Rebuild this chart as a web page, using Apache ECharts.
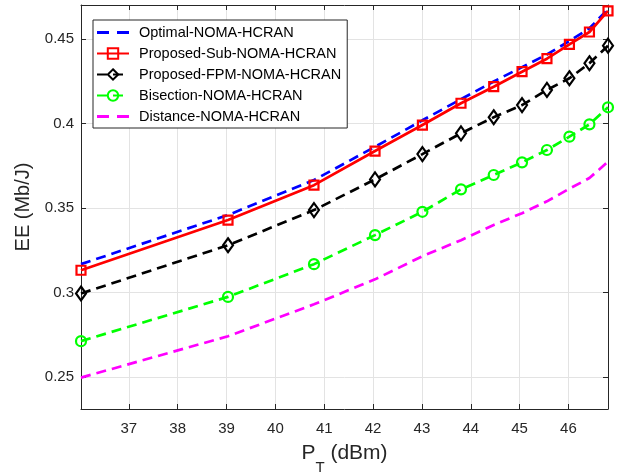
<!DOCTYPE html>
<html>
<head>
<meta charset="utf-8">
<script src="https://cdn.jsdelivr.net/npm/echarts@6/dist/echarts.min.js"></script>
<style>
    html, body { margin: 0; padding: 0; background: #fff; }
    #echarts-line { width: 619px; height: 475px; }
</style>
</head>
<body>
<div id="echarts-line"></div>
<script>
// transmit power (dBm)
var ptDbm = [36.02, 39.03, 40.79, 42.04, 43.01, 43.80, 44.47, 45.05, 45.56, 46.02, 46.43, 46.81];

var optimalEE = [0.3168, 0.3459, 0.3666, 0.3863, 0.4020, 0.4145, 0.4250, 0.4335, 0.4410, 0.4490, 0.4565, 0.4678];
var subEE = [0.3132, 0.3429, 0.3636, 0.3838, 0.3992, 0.4121, 0.4219, 0.4308, 0.4385, 0.4470, 0.4543, 0.4668];
var fpmEE = [0.2994, 0.3280, 0.3488, 0.3670, 0.3820, 0.3943, 0.4038, 0.4110, 0.4200, 0.4269, 0.4358, 0.4462];
var bisectionEE = [0.2712, 0.2974, 0.3168, 0.3340, 0.3478, 0.3611, 0.3696, 0.3771, 0.3844, 0.3923, 0.3996, 0.4097];
var distanceEE = [0.2496, 0.2741, 0.2930, 0.3078, 0.3215, 0.3310, 0.3400, 0.3470, 0.3540, 0.3615, 0.3678, 0.3775];

var seriesNames = ['Optimal-NOMA-HCRAN', 'Proposed-Sub-NOMA-HCRAN', 'Proposed-FPM-NOMA-HCRAN', 'Bisection-NOMA-HCRAN', 'Distance-NOMA-HCRAN'];

var xMin = 36.02, xMax = 46.81;
var yMin = 0.231, yMax = 0.4703;

function pairs(xs, ys) {
    var arr = [];
    for (var i = 0; i < xs.length; i++) {
        arr.push([xs[i], ys[i]]);
    }
    return arr;
}

function eeChart(id) {
    var myChart = echarts.init(document.getElementById(id));
    var font = 'Liberation Sans, Arial, sans-serif';
    var axisColor = '#262626';
    var dash = [10, 6];
    // two short dashes, with tiny specks at top and bottom to keep the icon height
    var dashIcon = 'path://M0,0h0.01v0.01h-0.01z M0,12.99h0.01v0.01h-0.01z M0,5h12v3h-12z M20,5h12v3h-12z';

    function lineSeries(name, data, color, dashed, symbol, size) {
        return {
            name: name,
            type: 'line',
            data: pairs(ptDbm, data),
            symbol: symbol || 'none',
            symbolSize: size || 9,
            showSymbol: !!symbol,
            lineStyle: {
                color: color,
                width: 2.7,
                type: dashed ? dash : 'solid'
            },
            itemStyle: {
                color: 'transparent',
                borderColor: color,
                borderWidth: 2.2
            },
            emphasis: { disabled: true },
            animation: false
        };
    }

    var option = {
        textStyle: { fontFamily: font },
        legend: {
            orient: 'vertical',
            left: 93,
            top: 20,
            padding: [5, 6, 4, 3],
            backgroundColor: '#fff',
            borderColor: axisColor,
            borderWidth: 1,
            itemWidth: 32,
            itemHeight: 13,
            itemGap: 6,
            textStyle: { fontSize: 14.5, color: '#000', fontFamily: font, padding: [0, 0, 0, 5] },
            data: [
                { name: seriesNames[0], icon: dashIcon, itemStyle: { color: '#0000ff', borderWidth: 0 } },
                seriesNames[1],
                seriesNames[2],
                seriesNames[3],
                { name: seriesNames[4], icon: dashIcon, itemStyle: { color: '#ff00ff', borderWidth: 0 } }
            ]
        },
        grid: {
            left: 81,
            right: 11,
            top: 5,
            bottom: 66,
            outerBoundsMode: 'none'
        },
        xAxis: [{
            type: 'value',
            min: xMin,
            max: xMax,
            splitNumber: 10,
            name: '{p|P}{s|T}{p| (dBm)}',
            nameLocation: 'middle',
            nameGap: 23,
            nameTextStyle: {
                rich: {
                    p: { fontSize: 21, color: '#262626', fontFamily: font },
                    s: { fontSize: 15, color: '#262626', fontFamily: font, padding: [28, 0, 0, 0] }
                }
            },
            axisLine: { lineStyle: { color: axisColor } },
            axisTick: { inside: true, length: 5, lineStyle: { color: axisColor } },
            axisLabel: {
                color: '#262626',
                fontSize: 15,
                margin: 12,
                showMinLabel: false,
                showMaxLabel: false
            },
            splitLine: { show: true, lineStyle: { color: '#e3e3e3' } }
        }, {
            type: 'value',
            position: 'top',
            min: xMin,
            max: xMax,
            splitNumber: 10,
            axisLine: { lineStyle: { color: axisColor } },
            axisTick: { inside: true, length: 5, lineStyle: { color: axisColor } },
            axisLabel: { show: false },
            splitLine: { show: false }
        }],
        yAxis: [{
            type: 'value',
            min: yMin,
            max: yMax,
            splitNumber: 5,
            name: 'EE (Mb/J)',
            nameLocation: 'middle',
            nameGap: 43,
            nameTextStyle: { fontSize: 20, color: '#262626' },
            axisLine: { show: true, lineStyle: { color: axisColor } },
            axisTick: { show: true, inside: true, length: 5, lineStyle: { color: axisColor } },
            axisLabel: {
                color: '#262626',
                fontSize: 15,
                margin: 7,
                showMinLabel: false,
                showMaxLabel: false
            },
            splitLine: { show: true, lineStyle: { color: '#e3e3e3' } }
        }, {
            type: 'value',
            position: 'right',
            min: yMin,
            max: yMax,
            splitNumber: 5,
            axisLine: { show: true, lineStyle: { color: axisColor } },
            axisTick: { show: true, inside: true, length: 5, lineStyle: { color: axisColor } },
            axisLabel: { show: false },
            splitLine: { show: false }
        }],
        series: [
            lineSeries(seriesNames[0], optimalEE, '#0000ff', true),
            lineSeries(seriesNames[1], subEE, '#ff0000', false, 'rect', 9),
            lineSeries(seriesNames[2], fpmEE, '#000000', true, 'diamond', [10, 14]),
            lineSeries(seriesNames[3], bisectionEE, '#00ff00', true, 'circle', 10),
            lineSeries(seriesNames[4], distanceEE, '#ff00ff', true)
        ]
    };
    myChart.setOption(option);
    return myChart;
}

var chart = eeChart('echarts-line');
</script>
</body>
</html>
